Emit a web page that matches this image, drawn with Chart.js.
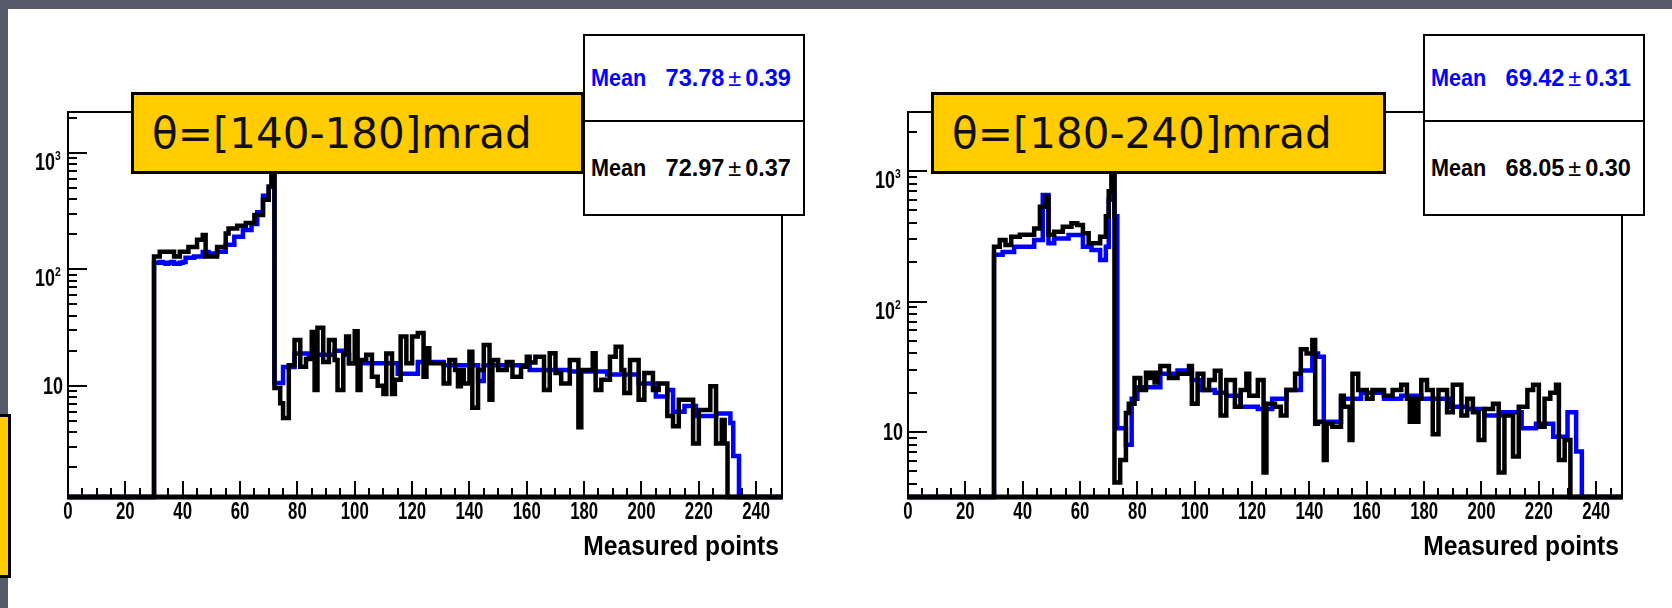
<!DOCTYPE html>
<html>
<head>
<meta charset="utf-8">
<script src="https://cdn.jsdelivr.net/npm/chart.js@4.4.1/dist/chart.umd.min.js"></script>
<style>
  body { margin: 0; width: 1672px; height: 608px; background: #fff; position: relative; overflow: hidden; }
  .strip { position: absolute; background: #575a69; }
  canvas { position: absolute; }
  .tag {
    position: absolute; box-sizing: border-box; background: #ffcc00; border: 3px solid #000;
    font-family: 'DejaVu Sans', sans-serif; font-size: 42px; color: #111;
    display: flex; align-items: center; padding-left: 18px; white-space: nowrap;
  }
  .stats {
    position: absolute; box-sizing: border-box; background: #fff; border: 2px solid #000;
    font-family: 'Liberation Sans', Arial, sans-serif; font-weight: bold; font-size: 24px;
  }
  .stats .row { position: relative; box-sizing: border-box; }
  .stats .row + .row { border-top: 2px solid #000; }
  .stats .name, .stats .value { position: absolute; top: 50%; white-space: nowrap; }
  .stats .name { left: 6px; transform: translateY(-50%) scaleX(0.9); transform-origin: left center; }
  .stats .value { right: 12px; transform: translateY(-50%) scaleX(0.98); transform-origin: right center; }
  .stats .pm { font-weight: normal; margin: 0 4px; }
</style>
</head>
<body>
<div class="strip" style="left:0;top:0;width:1672px;height:9px"></div>
<div class="strip" style="left:0;top:0;width:8px;height:608px"></div>

<canvas id="leftChart" width="792" height="470" style="left:8px;top:100px"></canvas>
<canvas id="rightChart" width="792" height="470" style="left:848px;top:100px"></canvas>

<div class="tag" style="left:-20px;top:414px;width:31px;height:164px"></div>
<div class="tag" style="left:131px;top:92px;width:453px;height:82px">θ=[140-180]mrad</div>
<div class="tag" style="left:931px;top:92px;width:455px;height:82px">θ=[180-240]mrad</div>
<div class="stats" id="leftStats" style="left:583px;top:34px;width:222px;height:182px"></div>
<div class="stats" id="rightStats" style="left:1423px;top:34px;width:222px;height:182px"></div>

<script>
// bin contents, one value per unit bin starting at FIRST_BIN
const FIRST_BIN = 30;

const leftBlack = [
    129, 129, 142, 142, 142, 142, 142, 129, 129, 142,
    142, 142, 156, 156, 156, 180, 180, 198, 129, 129,
    129, 129, 156, 156, 156, 204, 225, 225, 225, 237,
    237, 237, 250, 250, 250, 294, 294, 294, 396, 396,
    512, 850, 9.6, 9.6, 7.1, 5.3, 5.3, 15, 15, 24.8,
    24.8, 14.6, 14.6, 17, 17, 29, 9.2, 31.5, 31.5, 16,
    16, 24.8, 24.8, 16.7, 9.2, 9.2, 19, 26.6, 15.6, 15.6,
    29.5, 9.2, 16.7, 16.7, 18.5, 18.5, 12, 12, 10, 10,
    8.5, 19, 19, 8.5, 11.3, 11.3, 26.6, 26.6, 15.6, 15.6,
    26.6, 26.6, 28.4, 28.4, 12, 21, 15.6, 15.6, 15.6, 15.6,
    15.6, 10.5, 10.5, 16.7, 16.7, 13.7, 9.9, 13.7, 10.5, 10.5,
    19.6, 6.5, 6.5, 13.7, 13.7, 22.4, 22.4, 7.6, 16.7, 16.7,
    13.7, 13.7, 13.7, 16, 16, 12, 12, 12, 14.6, 14.6,
    17.8, 15.9, 15.9, 17.8, 17.8, 17.8, 9.2, 9.2, 19.1, 19.1,
    12.9, 12.9, 10.5, 10.5, 10.5, 16.7, 16.7, 16.7, 4.4, 13.7,
    13.7, 13.7, 13.7, 19.1, 9.2, 9.2, 11.3, 11.3, 11.3, 17.8,
    17.8, 21.7, 21.7, 13.7, 8.7, 8.7, 16.7, 16.7, 16.7, 7.6,
    7.6, 12.9, 12.9, 12.9, 9.2, 9.2, 10.5, 10.5, 10.5, 5.5,
    5.5, 4.5, 4.5, 7.6, 7.6, 7.6, 7.6, 7.6, 3.2, 3.2,
    6.2, 6.2, 6.2, 6.2, 9.9, 9.9, 3.2, 3.2, 5.1, 3.2
];
const leftBlue = [
    114, 114, 116, 114, 112, 114, 116, 112, 112, 114,
    116, 126, 126, 126, 129, 129, 129, 141, 141, 137,
    137, 137, 142, 142, 142, 163, 163, 163, 191, 191,
    191, 218, 218, 218, 245, 245, 310, 310, 430, 430,
    512, 900, 10.6, 10.6, 10.6, 14.5, 14.5, 14.5, 14.5, 19,
    19, 19, 19, 19, 18.5, 18.5, 18.5, 18.5, 18.5, 18.5,
    18.5, 18.5, 18.5, 20, 20, 20, 18.5, 18.5, 15.6, 15.6,
    15.6, 15.6, 15.6, 15.6, 15.6, 15.6, 15.6, 15.6, 15.6, 15.6,
    15.6, 15.6, 15.6, 15.6, 15.6, 12.7, 12.7, 12.7, 12.7, 12.7,
    12.7, 12.7, 16, 16, 16, 16, 16, 16, 16, 16,
    16, 15, 15, 15, 15, 15, 15, 15, 15, 15,
    15, 15, 15, 11, 11, 15, 15, 15, 15, 15,
    15, 15, 15, 15, 15, 15, 15, 15, 15, 15,
    15, 13.7, 13.7, 13.7, 13.7, 13.7, 13.7, 13.7, 13.7, 13.7,
    13.7, 13.7, 13.7, 13.7, 13.7, 13.3, 13.3, 13.3, 13.3, 13.3,
    13.3, 13.3, 13.3, 13.3, 13.3, 13.3, 13.3, 13.3, 12.5, 12.5,
    12.5, 12.5, 12.5, 12.5, 12.5, 12.5, 12.5, 12.5, 12.5, 10.5,
    10.5, 10.5, 10.5, 10.5, 10.5, 8.1, 8.1, 8.1, 8.1, 9.2,
    9.2, 6.0, 6.0, 6.0, 6.0, 6.7, 6.7, 6.7, 6.7, 5.5,
    5.5, 5.5, 5.5, 5.5, 5.5, 5.5, 5.8, 5.8, 5.8, 5.8,
    5.8, 4.8, 2.5, 2.5
];
const rightBlack = [
    263, 263, 296, 296, 271, 271, 313, 313, 313, 324,
    324, 324, 324, 324, 363, 363, 533, 533, 634, 324,
    324, 343, 343, 343, 374, 374, 374, 397, 397, 385,
    385, 333, 333, 279, 279, 279, 279, 313, 313, 450,
    700, 950, 4.1, 4.1, 6.1, 6.1, 14, 16.5, 16.5, 26,
    26, 21, 21, 28.5, 26, 28.5, 24, 28.5, 32, 32,
    32, 26, 26, 26, 28, 28, 28, 28, 32, 16.5,
    16.5, 28, 28, 21, 21, 25, 25, 29.5, 29.5, 13.4,
    13.4, 25, 25, 25, 15.6, 15.6, 21, 21, 28, 19,
    19, 19, 25, 25, 4.9, 16.5, 16.5, 16.5, 15.6, 15.6,
    13.4, 13.4, 21, 21, 21, 28, 28, 43, 43, 40,
    40, 50.7, 11.6, 12, 12, 6.1, 11.6, 11.6, 11, 11,
    11, 19, 15.6, 15.6, 8.7, 28, 28, 21, 21, 21,
    18, 18, 21, 21, 21, 21, 19, 19, 19, 21,
    21, 21, 23, 23, 18, 12, 18, 12, 18, 25,
    25, 21, 21, 9.6, 9.6, 21, 21, 21, 14.2, 14.2,
    23, 23, 23, 13.4, 13.4, 18, 18, 14.2, 14.2, 8.7,
    8.7, 15, 15, 15, 16.5, 16.5, 4.9, 4.9, 13.4, 13.4,
    13.4, 6.5, 6.5, 15.6, 15.6, 15.6, 21, 21, 23, 23,
    11, 11, 18, 18, 20, 20, 23, 6.1, 6.1, 8.7,
    8.7
];
const rightBlue = [
    228, 228, 228, 240, 240, 240, 240, 263, 263, 263,
    263, 263, 263, 263, 296, 296, 296, 655, 655, 279,
    279, 304, 304, 304, 304, 304, 323, 323, 323, 323,
    323, 263, 263, 263, 248, 248, 248, 208, 208, 263,
    601, 1100, 450, 10.7, 10.7, 10.7, 8, 8, 18, 18,
    22, 22, 22, 22, 22, 22, 22, 22, 28, 28,
    28, 28, 28, 28, 29.6, 29.6, 29.6, 29.6, 29.6, 25,
    25, 25, 21, 21, 21, 21, 21, 20, 20, 20,
    20, 19, 19, 19, 19, 19, 15.6, 15.6, 15.6, 15.6,
    15.6, 15.6, 15, 15, 15, 15, 15, 18, 18, 18,
    18, 18, 21, 21, 21, 21, 21, 29.6, 29.6, 29.6,
    29.6, 40, 40, 37.8, 37.8, 12, 12, 12, 12, 12,
    12, 18, 18, 18, 18, 18, 18, 18, 20, 20,
    20, 20, 20, 20, 20, 20, 18, 18, 18, 18,
    18, 18, 19, 19, 19, 19, 19, 19, 19, 18,
    18, 18, 18, 18, 18, 18, 18, 18, 18, 15.6,
    15.6, 15.6, 15.6, 15.6, 15.6, 15, 15, 15, 15, 15,
    15, 13.4, 13.4, 13.4, 13.4, 13.4, 13.4, 14.2, 14.2, 14.2,
    14.2, 14.2, 14.2, 14.2, 10.7, 10.7, 10.7, 10.7, 10.7, 11.6,
    11.6, 11.6, 11.6, 11.6, 11.6, 9.2, 9.2, 9.2, 9.2, 9.2,
    14.2, 14.2, 14.2, 7.1, 7.1
];

const xTicks = [0, 20, 40, 60, 80, 100, 120, 140, 160, 180, 200, 220, 240];
const yTicks = [10, 100, 1000];
const yExponents = ['', '2', '3'];
const xTitle = 'Measured points';

const leftMeans = [['Mean', '73.78', '0.39'], ['Mean', '72.97', '0.37']];
const rightMeans = [['Mean', '69.42', '0.31'], ['Mean', '68.05', '0.30']];

const X_MAX = 249;
const LABEL_FONT = '"Liberation Sans", Arial, sans-serif';

// step outline: empty bins sit on the lower edge of the frame
function histPoints(values, floor) {
    let pts = [{x: 0, y: floor}];
    values.forEach((v, i) => pts.push({x: FIRST_BIN + i, y: v}));
    pts.push({x: FIRST_BIN + values.length, y: floor});
    pts.push({x: X_MAX, y: floor});
    return pts;
}

// bold Helvetica-like text, squeezed horizontally like ROOT's axis font
function narrowText(ctx, text, x, y, size, align, squeeze) {
    ctx.save();
    ctx.font = 'bold ' + size + 'px ' + LABEL_FONT;
    ctx.fillStyle = '#000';
    ctx.textAlign = align;
    ctx.textBaseline = 'alphabetic';
    ctx.translate(x, y);
    ctx.scale(squeeze, 1);
    ctx.fillText(text, 0, 0);
    ctx.restore();
}

// ROOT style frame with ticks pointing into the pad, plus axis labels
const rootFrame = {
    id: 'rootFrame',
    beforeDatasetsDraw(chart) {
        const {ctx, chartArea: a, scales: {x, y}} = chart;
        ctx.save();
        ctx.strokeStyle = '#000';
        ctx.lineWidth = 2;
        ctx.strokeRect(a.left, a.top, a.right - a.left, a.bottom - a.top);
        ctx.beginPath();
        for (let v = 0; v <= x.max; v += 5) {
            const px = Math.round(x.getPixelForValue(v));
            ctx.moveTo(px, a.bottom);
            ctx.lineTo(px, a.bottom - (v % 20 === 0 ? 16 : 9));
        }
        for (let d = 1; d <= 1000; d *= 10) {
            for (let m = 1; m <= 9; m++) {
                const v = d * m;
                if (v < y.min || v > y.max) continue;
                const py = Math.round(y.getPixelForValue(v));
                ctx.moveTo(a.left, py);
                ctx.lineTo(a.left + (m === 1 ? 19 : 9), py);
            }
        }
        ctx.stroke();
        ctx.restore();

        xTicks.forEach(v => narrowText(ctx, String(v), x.getPixelForValue(v), a.bottom + 22, 24, 'center', 0.7));
        yTicks.forEach((v, i) => {
            const py = y.getPixelForValue(v);
            if (yExponents[i] === '') {
                narrowText(ctx, '10', a.left - 5, py + 8, 23, 'right', 0.78);
            } else {
                narrowText(ctx, '10', a.left - 13, py + 17, 23, 'right', 0.78);
                narrowText(ctx, yExponents[i], a.left - 13, py + 7, 13, 'left', 0.8);
            }
        });
        narrowText(ctx, xTitle, a.right - 3, a.bottom + 58, 28, 'right', 0.88);
    },
    // heavy x axis line laid over the empty bins
    afterDatasetsDraw(chart) {
        const {ctx, chartArea: a} = chart;
        ctx.save();
        ctx.strokeStyle = '#000';
        ctx.lineWidth = 5;
        ctx.beginPath();
        ctx.moveTo(a.left - 1, a.bottom);
        ctx.lineTo(a.right + 1, a.bottom);
        ctx.stroke();
        ctx.restore();
    }
};

function makeChart(id, black, blue, yMin, yMax, axisWidth) {
    const line = (data, color) => ({
        data: histPoints(data, yMin),
        borderColor: color,
        borderWidth: 4.5,
        stepped: 'before',
        pointRadius: 0,
        fill: false,
        borderJoinStyle: 'miter',
        clip: 6
    });
    return new Chart(document.getElementById(id), {
        type: 'line',
        data: {datasets: [line(black, '#000'), line(blue, '#0000ff')]},
        options: {
            responsive: false,
            animation: false,
            layout: {padding: {top: 12, right: 792 - axisWidth - 714, left: 0, bottom: 0}},
            plugins: {legend: {display: false}, tooltip: {enabled: false}},
            scales: {
                x: {
                    type: 'linear',
                    min: 0,
                    max: X_MAX,
                    grid: {display: false, drawTicks: false},
                    border: {display: false},
                    ticks: {display: false},
                    afterFit: s => { s.height = 73; }
                },
                y: {
                    type: 'logarithmic',
                    min: yMin,
                    max: yMax,
                    grid: {display: false, drawTicks: false},
                    border: {display: false},
                    ticks: {display: false},
                    afterFit: s => { s.width = axisWidth; }
                }
            }
        },
        plugins: [rootFrame]
    });
}

function fillStats(id, rows, colors) {
    const box = document.getElementById(id);
    const heights = [84, 94];
    rows.forEach((r, i) => {
        const row = document.createElement('div');
        row.className = 'row';
        row.style.height = heights[i] + 'px';
        row.style.color = colors[i];
        row.innerHTML = '<span class="name">' + r[0] + '</span><span class="value">' + r[1] +
            '<span class="pm">±</span>' + r[2] + '</span>';
        box.appendChild(row);
    });
}

makeChart('leftChart', leftBlack, leftBlue, 1.11, 2250, 60);
makeChart('rightChart', rightBlack, rightBlue, 3.18, 2830, 60);
fillStats('leftStats', leftMeans, ['#0000ff', '#000']);
fillStats('rightStats', rightMeans, ['#0000ff', '#000']);
</script>
</body>
</html>
